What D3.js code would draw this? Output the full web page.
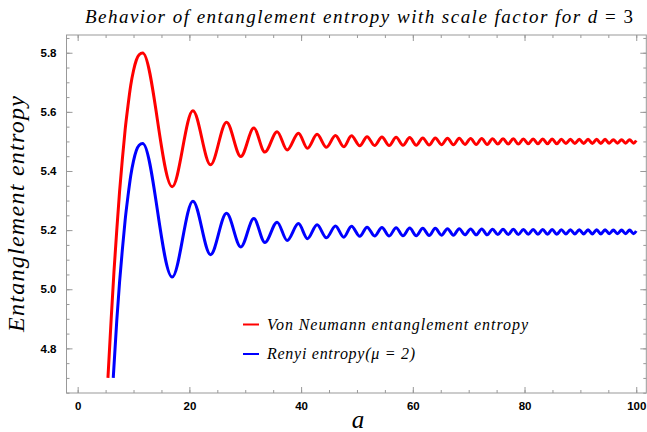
<!DOCTYPE html>
<html>
<head>
<meta charset="utf-8">
<script src="https://cdn.jsdelivr.net/npm/d3@7"></script>
<style>
  body { margin: 0; background: #fff; }
  .tick text { font-family: "Liberation Sans", Arial, sans-serif; font-weight: bold; font-size: 11.5px; fill: #000; }
  .tick line { stroke: #999; }
</style>
</head>
<body>
<div id="chart"></div>
<script>
// rising branch
const riseVnA = [5.42, 6.0, 6.5, 7.0, 7.5, 8.0, 8.5, 9.0, 9.5, 10.0, 10.5, 11.0];
const riseVnS = [4.70, 4.90, 5.06, 5.20, 5.33, 5.44, 5.54, 5.62, 5.69, 5.74, 5.775, 5.793];
const riseReA = [6.37, 7.0, 7.5, 8.0, 8.5, 9.0, 9.5, 10.0, 10.5, 11.0];
const riseReS = [4.70, 4.894, 5.024, 5.134, 5.234, 5.314, 5.384, 5.434, 5.469, 5.487];

// peaks and troughs of the oscillation, same positions for both curves
const waveA = [11.63, 16.92, 20.63, 23.79, 26.65, 29.21, 31.54, 33.51, 35.71, 37.50,
  39.53, 41.14, 42.86, 44.54, 46.15, 47.64, 49.02, 50.50, 51.81, 53.16,
  54.47, 55.76, 57.01, 58.24, 59.44, 60.62, 61.78, 62.92, 64.03, 65.13,
  66.21, 67.27, 68.31, 69.34, 70.35, 71.35, 72.34, 73.31, 74.27, 75.22,
  76.15, 77.08, 77.99, 78.89, 79.79, 80.67, 81.54, 82.40, 83.26, 84.11,
  84.94, 85.77, 86.59, 87.41, 88.21, 89.01, 89.80, 90.59, 91.37, 92.14,
  92.91, 93.66, 94.42, 95.16, 95.90, 96.64, 97.37, 98.09, 98.81, 99.53, 100];
const waveVn = [5.799, 5.347, 5.604, 5.421, 5.565, 5.449, 5.545, 5.464, 5.533, 5.471,
  5.528, 5.477, 5.524, 5.480, 5.520, 5.482, 5.519, 5.485, 5.516, 5.486,
  5.515, 5.486, 5.514, 5.487, 5.513, 5.487, 5.512, 5.488, 5.512, 5.489,
  5.511, 5.489, 5.511, 5.490, 5.510, 5.490, 5.510, 5.490, 5.509, 5.491,
  5.509, 5.491, 5.509, 5.491, 5.508, 5.492, 5.508, 5.492, 5.508, 5.492,
  5.508, 5.492, 5.507, 5.493, 5.507, 5.493, 5.507, 5.493, 5.507, 5.493,
  5.507, 5.493, 5.507, 5.494, 5.506, 5.494, 5.506, 5.494, 5.506, 5.494, 5.503];
const waveRe = [5.493, 5.041, 5.298, 5.117, 5.257, 5.143, 5.239, 5.158, 5.227, 5.165,
  5.222, 5.171, 5.218, 5.174, 5.214, 5.176, 5.213, 5.179, 5.210, 5.180,
  5.209, 5.180, 5.208, 5.181, 5.207, 5.181, 5.206, 5.182, 5.206, 5.183,
  5.205, 5.183, 5.205, 5.184, 5.204, 5.184, 5.204, 5.184, 5.203, 5.185,
  5.203, 5.185, 5.203, 5.185, 5.202, 5.186, 5.202, 5.186, 5.202, 5.186,
  5.202, 5.186, 5.201, 5.187, 5.201, 5.187, 5.201, 5.187, 5.201, 5.187,
  5.201, 5.187, 5.201, 5.188, 5.200, 5.188, 5.200, 5.188, 5.200, 5.188, 5.197];

const xTicks = [0, 20, 40, 60, 80, 100];
const xMinor = d3.range(0, 101, 5);
const yTicks = [4.8, 5.0, 5.2, 5.4, 5.6, 5.8];
const yMinor = d3.range(4.65, 5.86, 0.05);
const seriesNames = ["Von Neumann entanglement entropy", "Renyi entropy(\u03bc = 2)"];
const seriesColors = ["#ff0000", "#0000ff"];

const W = 647, H = 432;
const frame = { left: 66.5, right: 646.3, top: 35, bottom: 393 };

const x = d3.scaleLinear().domain([-2, 101.8]).range([frame.left, frame.right]);
const y = d3.scaleLinear().domain([4.649, 5.86]).range([frame.bottom, frame.top]);

const vnAll = riseVnS.concat(waveVn);
const reAll = riseReS.concat(waveRe);
const series = [
  riseVnA.concat(waveA).map((a, i) => ({ a: a, s: vnAll[i] })),
  riseReA.concat(waveA).map((a, i) => ({ a: a, s: reAll[i] }))
];

const svg = d3.select("#chart").append("svg")
    .attr("width", W)
    .attr("height", H);

// frame
svg.append("rect")
    .attr("x", frame.left).attr("y", frame.top)
    .attr("width", frame.right - frame.left).attr("height", frame.bottom - frame.top)
    .attr("fill", "none").attr("stroke", "#999").attr("stroke-width", 1);

function ticks(axis, tr, vals, size, labels) {
  const g = svg.append("g").attr("transform", tr)
      .call(axis.tickValues(vals).tickSize(size).tickPadding(labels ? 9 : 0)
        .tickFormat(labels ? d3.format(labels) : ""));
  g.select(".domain").remove();
  return g;
}

ticks(d3.axisBottom(x), `translate(0,${frame.bottom})`, xMinor, -3, null);
ticks(d3.axisBottom(x), `translate(0,${frame.bottom})`, xTicks, -6, "d");
ticks(d3.axisTop(x), `translate(0,${frame.top})`, xMinor, -3, null);
ticks(d3.axisTop(x), `translate(0,${frame.top})`, xTicks, -6, null);
ticks(d3.axisLeft(y), `translate(${frame.left},0)`, yMinor, -3, null);
ticks(d3.axisLeft(y), `translate(${frame.left},0)`, yTicks, -6, ".1f").selectAll("text").attr("dx", "-1");
ticks(d3.axisRight(y), `translate(${frame.right},0)`, yMinor, -3, null);
ticks(d3.axisRight(y), `translate(${frame.right},0)`, yTicks, -6, null);

const line = d3.line()
    .x(d => x(d.a))
    .y(d => y(d.s))
    .curve(d3.curveMonotoneX);

series.forEach((s, i) => {
  svg.append("path")
      .datum(s)
      .attr("fill", "none")
      .attr("stroke", seriesColors[i])
      .attr("stroke-width", 3)
      .attr("d", line);
});

// title
const title = svg.append("text")
    .attr("x", 359).attr("y", 23)
    .attr("text-anchor", "middle")
    .attr("textLength", 548)
    .attr("lengthAdjust", "spacing")
    .style("font-family", "'Liberation Serif', serif")
    .style("font-size", "19px");
title.append("tspan").style("font-style", "italic").text("Behavior of entanglement entropy with scale factor for d");
title.append("tspan").text(" = 3");

// axis labels
svg.append("text")
    .attr("transform", "translate(24,214) rotate(-90)")
    .attr("text-anchor", "middle")
    .attr("textLength", 236)
    .attr("lengthAdjust", "spacing")
    .style("font-family", "'Liberation Serif', serif")
    .style("font-style", "italic")
    .style("font-size", "24px")
    .text("Entanglement entropy");

svg.append("text")
    .attr("x", 358).attr("y", 428)
    .attr("text-anchor", "middle")
    .style("font-family", "'Liberation Serif', serif")
    .style("font-style", "italic")
    .style("font-size", "25px")
    .text("a");

// legend
const legendY = [324.5, 354];
const legendW = [261, 148];
seriesNames.forEach((name, i) => {
  svg.append("line")
      .attr("x1", 243).attr("x2", 259)
      .attr("y1", legendY[i]).attr("y2", legendY[i])
      .attr("stroke", seriesColors[i]).attr("stroke-width", 2);
  svg.append("text")
      .attr("x", 267).attr("y", legendY[i] + 5)
      .attr("textLength", legendW[i])
      .attr("lengthAdjust", "spacing")
      .style("font-family", "'Liberation Serif', serif")
      .style("font-style", "italic")
      .style("font-size", "16px")
      .text(name);
});
</script>
</body>
</html>
